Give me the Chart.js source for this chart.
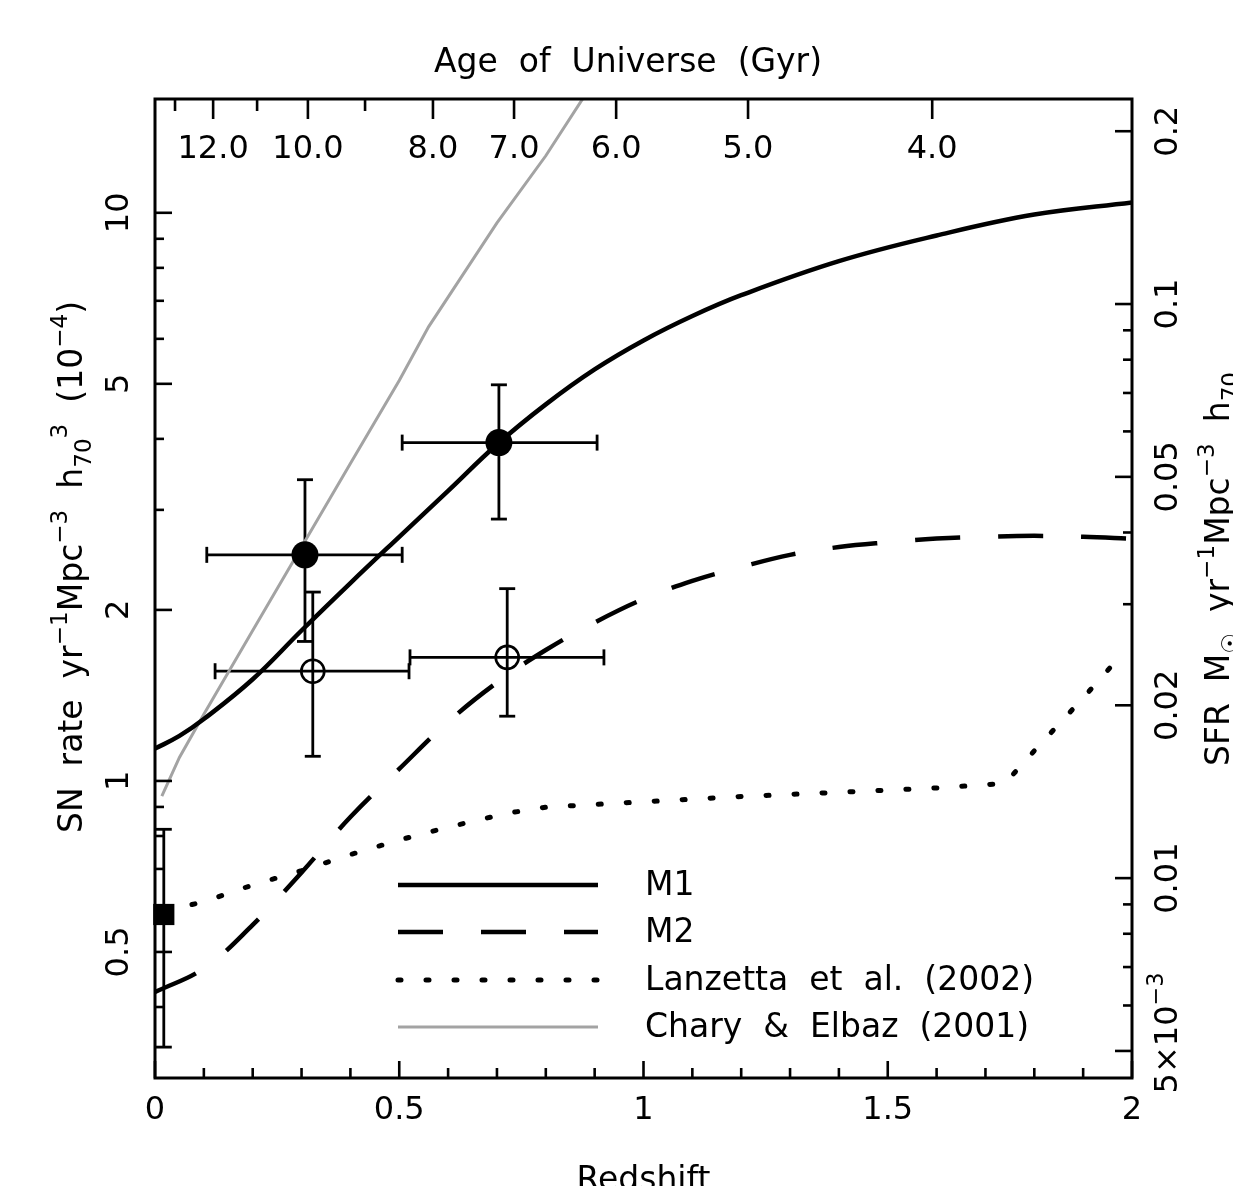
<!DOCTYPE html>
<html><head><meta charset="utf-8">
<script src="https://cdn.jsdelivr.net/npm/chart.js@4.4.1/dist/chart.umd.min.js"></script>
<style>html,body{margin:0;padding:0;background:#fff;overflow:hidden}canvas{display:block}</style>
</head><body>
<canvas id="c" width="1233" height="1186"></canvas>
<script>
// ---------- data ----------
const m1Redshift = [0, 0.05, 0.1, 0.2, 0.3, 0.4, 0.5, 0.6, 0.7, 0.8, 0.9, 1.0, 1.1, 1.2, 1.4, 1.6, 1.8, 2.0];
const m1Rate     = [1.14, 1.20, 1.285, 1.51, 1.84, 2.23, 2.69, 3.24, 3.91, 4.60, 5.30, 5.96, 6.58, 7.16, 8.22, 9.12, 9.93, 10.43];

const m2Redshift = [0, 0.1, 0.2, 0.3, 0.4, 0.5, 0.6, 0.7, 0.8, 0.9, 1.0, 1.1, 1.2, 1.3, 1.4, 1.5, 1.6, 1.7, 1.8, 1.9, 2.0];
const m2Rate     = [0.425, 0.468, 0.558, 0.69, 0.864, 1.05, 1.27, 1.49, 1.70, 1.90, 2.09, 2.25, 2.38, 2.50, 2.58, 2.63, 2.67, 2.69, 2.70, 2.69, 2.67];

const lanzettaRedshift = [0.02, 0.1, 0.2, 0.3, 0.4, 0.5, 0.6, 0.72, 0.8, 0.9, 1.0, 1.2, 1.4, 1.6, 1.74, 1.8, 1.9, 1.96];
const lanzettaRate     = [0.59, 0.613, 0.656, 0.695, 0.742, 0.787, 0.829, 0.877, 0.899, 0.909, 0.919, 0.939, 0.955, 0.972, 0.99, 1.13, 1.40, 1.60];

const charyRedshift = [0.014, 0.05, 0.1, 0.2, 0.3, 0.4, 0.5, 0.56, 0.7, 0.8, 0.876];
const charyRate     = [0.94, 1.10, 1.31, 1.84, 2.58, 3.62, 5.07, 6.3, 9.6, 12.6, 15.9];

// filled circles
const filledRedshift = [0.307, 0.704];
const filledRate     = [2.50, 3.94];
const filledZLow     = [0.106, 0.506];
const filledZHigh    = [0.506, 0.905];
const filledRateLow  = [1.76, 2.89];
const filledRateHigh = [3.39, 4.98];
// open circles
const openRedshift = [0.323, 0.721];
const openRate     = [1.56, 1.65];
const openZLow     = [0.123, 0.522];
const openZHigh    = [0.520, 0.919];
const openRateLow  = [1.105, 1.30];
const openRateHigh = [2.15, 2.18];
// local (square) point
const localRedshift = [0.018];
const localRate     = [0.582];
const localRateLow  = [0.340];
const localRateHigh = [0.822];

// axes
const rateMin = 0.3126, rateMax = 15.86;           // SN rate (1e-4) range
const sfrPerRate = 0.01435;                         // right-axis conversion
const redshiftTickValues = [0, 0.5, 1, 1.5, 2];
const redshiftTickLabels = ['0', '0.5', '1', '1.5', '2'];
const rateTickValues = [0.5, 1, 2, 5, 10];
const rateTickLabels = ['0.5', '1', '2', '5', '10'];
const sfrTickValues = [0.005, 0.01, 0.02, 0.05, 0.1, 0.2];
const sfrTickLabels = ['5×10^−3', '0.01', '0.02', '0.05', '0.1', '0.2'];
const ageTickLabels   = ['12.0', '10.0', '8.0', '7.0', '6.0', '5.0', '4.0'];
const ageTickRedshift = [0.119, 0.313, 0.569, 0.735, 0.944, 1.214, 1.591];
const ageMinorRedshift = [0.041, 0.209, 0.430];   // 13, 11, 9 Gyr

const legendLabels = ['M1', 'M2', 'Lanzetta  et  al.  (2002)', 'Chary  &  Elbaz  (2001)'];

// ---------- helpers ----------
const FONT = '"DejaVu Sans", sans-serif';
const pts = (xs, ys) => xs.map((x, i) => ({x: x, y: ys[i]}));

function segWidth(ctx, s, size) {
  ctx.font = (s.k === 'n' ? size : size * 0.7) + 'px ' + FONT;
  return ctx.measureText(s.t).width;
}
function drawRich(ctx, segs, x, y, size, rot, align) {
  ctx.save();
  ctx.translate(x, y);
  if (rot) ctx.rotate(rot);
  let w = 0;
  segs.forEach(s => { w += segWidth(ctx, s, size); });
  let cx = align === 'center' ? -w / 2 : 0;
  ctx.textAlign = 'left';
  ctx.textBaseline = 'alphabetic';
  ctx.fillStyle = '#000';
  segs.forEach(s => {
    const sw = segWidth(ctx, s, size);
    const dy = s.k === 'sup' ? -0.45 * size : (s.k === 'sub' ? 0.28 * size : 0);
    ctx.fillText(s.t, cx, dy);
    cx += sw;
  });
  ctx.restore();
}
function parseLabel(txt) {
  const p = txt.split('^');
  const segs = [{t: p[0], k: 'n'}];
  if (p[1]) segs.push({t: p[1], k: 'sup'});
  return segs;
}
function line(ctx, x1, y1, x2, y2) {
  ctx.beginPath(); ctx.moveTo(x1, y1); ctx.lineTo(x2, y2); ctx.stroke();
}

// ---------- plugins ----------
const errorBars = {
  id: 'errorBars',
  beforeDatasetsDraw(chart) {
    const ctx = chart.ctx, xs = chart.scales.x, ys = chart.scales.y;
    ctx.save();
    ctx.strokeStyle = '#000';
    ctx.lineWidth = 2.8;
    const cap = 8;
    function bar(z, r, zl, zh, rl, rh) {
      const px = xs.getPixelForValue(z), py = ys.getPixelForValue(r);
      if (zl !== null) {
        const a = xs.getPixelForValue(zl), b = xs.getPixelForValue(zh);
        line(ctx, a, py, b, py);
        line(ctx, a, py - cap, a, py + cap);
        line(ctx, b, py - cap, b, py + cap);
      }
      const c = ys.getPixelForValue(rl), d = ys.getPixelForValue(rh);
      line(ctx, px, c, px, d);
      line(ctx, px - cap, c, px + cap, c);
      line(ctx, px - cap, d, px + cap, d);
    }
    filledRedshift.forEach((z, i) => bar(z, filledRate[i], filledZLow[i], filledZHigh[i], filledRateLow[i], filledRateHigh[i]));
    openRedshift.forEach((z, i) => bar(z, openRate[i], openZLow[i], openZHigh[i], openRateLow[i], openRateHigh[i]));
    localRedshift.forEach((z, i) => bar(z, localRate[i], null, null, localRateLow[i], localRateHigh[i]));
    ctx.restore();
  }
};

const axesDecor = {
  id: 'axesDecor',
  afterDraw(chart) {
    const ctx = chart.ctx;
    const a = chart.chartArea;
    const xs = chart.scales.x, x2 = chart.scales.x2, ys = chart.scales.y, y2 = chart.scales.y2;
    ctx.save();
    ctx.strokeStyle = '#000';
    ctx.lineCap = 'butt';
    // ticks
    ctx.lineWidth = 2.6;
    for (let i = 0; i <= 20; i++) {
      const v = i / 10;
      const px = xs.getPixelForValue(v);
      const len = redshiftTickValues.some(t => Math.abs(t - v) < 1e-9) ? 17 : 10;
      line(ctx, px, a.bottom, px, a.bottom - len);
    }
    x2.ticks.forEach(t => { const px = x2.getPixelForValue(t.value); line(ctx, px, a.top, px, a.top + 20); });
    ageMinorRedshift.forEach(v => { const px = x2.getPixelForValue(v); line(ctx, px, a.top, px, a.top + 12); });
    [0.1, 1, 10].forEach(d => {
      for (let m = 1; m <= 9; m++) {
        const v = m * d;
        if (v < rateMin || v > rateMax) continue;
        const py = ys.getPixelForValue(v);
        const len = rateTickValues.some(t => Math.abs(t - v) < 1e-9) ? 17 : 9;
        line(ctx, a.left, py, a.left + len, py);
      }
    });
    [0.001, 0.01, 0.1].forEach(d => {
      for (let m = 1; m <= 9; m++) {
        const v = m * d;
        if (v < y2.min || v > y2.max) continue;
        const py = y2.getPixelForValue(v);
        const len = sfrTickValues.some(t => Math.abs(t - v) < 1e-12) ? 17 : 9;
        line(ctx, a.right, py, a.right - len, py);
      }
    });
    // frame
    ctx.lineWidth = 3;
    ctx.strokeRect(a.left, a.top, a.right - a.left, a.bottom - a.top);

    // tick labels
    ctx.fillStyle = '#000';
    const TS = 32;
    ctx.font = TS + 'px ' + FONT;
    ctx.textAlign = 'center';
    ctx.textBaseline = 'alphabetic';
    xs.ticks.forEach((t, i) => ctx.fillText(redshiftTickLabels[i], xs.getPixelForValue(t.value), a.bottom + 41));
    x2.ticks.forEach((t, i) => ctx.fillText(ageTickLabels[i], x2.getPixelForValue(t.value), a.top + 59));
    ys.ticks.forEach((t, i) => drawRich(ctx, parseLabel(rateTickLabels[i]), a.left - 27, ys.getPixelForValue(t.value), TS, -Math.PI / 2, 'center'));
    y2.ticks.forEach((t, i) => {
      let py = y2.getPixelForValue(t.value);
      if (sfrTickLabels[i].indexOf('^') >= 0) py -= 18;
      drawRich(ctx, parseLabel(sfrTickLabels[i]), a.right + 45, py, TS, -Math.PI / 2, 'center');
    });

    // axis titles
    const S = 33;
    ctx.font = S + 'px ' + FONT;
    ctx.textAlign = 'center';
    ctx.fillText('Age  of  Universe  (Gyr)', 628, 72);
    ctx.fillText('Redshift', (a.left + a.right) / 2, a.bottom + 112);
    drawRich(ctx, [
      {t: 'SN  rate  yr', k: 'n'}, {t: '−1', k: 'sup'}, {t: 'Mpc', k: 'n'}, {t: '−3', k: 'sup'},
      {t: '  h', k: 'n'}, {t: '70', k: 'sub'}, {t: '3', k: 'sup'}, {t: '  (10', k: 'n'}, {t: '−4', k: 'sup'}, {t: ')', k: 'n'}
    ], 82, 567, S, -Math.PI / 2, 'center');
    drawRich(ctx, [
      {t: 'SFR  M', k: 'n'}, {t: '☉', k: 'sub'}, {t: '  yr', k: 'n'}, {t: '−1', k: 'sup'}, {t: 'Mpc', k: 'n'}, {t: '−3', k: 'sup'},
      {t: '  h', k: 'n'}, {t: '70', k: 'sub'}
    ], 1229, 766, S, -Math.PI / 2, 'left');

    // legend
    const rows = [885, 932, 980, 1027];
    const ds = [chart.data.datasets[3], chart.data.datasets[4], chart.data.datasets[5], chart.data.datasets[6]];
    ds.forEach((d, i) => {
      ctx.save();
      ctx.strokeStyle = d.borderColor;
      ctx.lineWidth = d.borderWidth;
      ctx.lineCap = d.borderCapStyle || 'butt';
      ctx.setLineDash(d.borderDash || []);
      line(ctx, 398, rows[i], 598, rows[i]);
      ctx.restore();
      ctx.font = S + 'px ' + FONT;
      ctx.textAlign = 'left';
      ctx.textBaseline = 'middle';
      ctx.fillStyle = '#000';
      ctx.fillText(legendLabels[i], 645, rows[i] + 1);
    });
    ctx.restore();
  }
};

// ---------- chart ----------
const hidden = {grid: {display: false}, border: {display: false}, ticks: {display: false}};
new Chart(document.getElementById('c'), {
  type: 'line',
  data: {
    datasets: [
      {type: 'scatter', label: 'filled', data: pts(filledRedshift, filledRate), pointStyle: 'circle', pointRadius: 13.5,
       backgroundColor: '#000', borderColor: '#000', borderWidth: 0, clip: false},
      {type: 'scatter', label: 'open', data: pts(openRedshift, openRate), pointStyle: 'circle', pointRadius: 11.5,
       backgroundColor: 'rgba(0,0,0,0)', borderColor: '#000', borderWidth: 2.6, clip: false},
      {type: 'scatter', label: 'local', data: pts(localRedshift, localRate), pointStyle: 'rect', pointRadius: 15,
       backgroundColor: '#000', borderColor: '#000', borderWidth: 0, clip: false},
      {label: 'M1', data: pts(m1Redshift, m1Rate), borderColor: '#000', borderWidth: 4.5, pointRadius: 0,
       tension: 0.4, fill: false},
      {label: 'M2', data: pts(m2Redshift, m2Rate), borderColor: '#000', borderWidth: 4.5, pointRadius: 0,
       borderDash: [45, 38], tension: 0.4, fill: false},
      {label: 'Lanzetta et al. (2002)', data: pts(lanzettaRedshift, lanzettaRate), borderColor: '#000', borderWidth: 5,
       pointRadius: 0, borderDash: [3, 25], borderCapStyle: 'round', tension: 0, fill: false},
      {label: 'Chary & Elbaz (2001)', data: pts(charyRedshift, charyRate), borderColor: '#a3a3a3', borderWidth: 3,
       pointRadius: 0, tension: 0, fill: false}
    ]
  },
  options: {
    responsive: false,
    animation: false,
    devicePixelRatio: 1,
    layout: {padding: 0},
    plugins: {legend: {display: false}, tooltip: {enabled: false}},
    scales: {
      x: Object.assign({type: 'linear', position: 'bottom', min: 0, max: 2,
        afterBuildTicks: s => { s.ticks = redshiftTickValues.map(v => ({value: v})); },
        afterFit: s => { s.height = 108; }}, hidden),
      x2: Object.assign({type: 'linear', position: 'top', min: 0, max: 2,
        afterBuildTicks: s => { s.ticks = ageTickRedshift.map(v => ({value: v})); },
        afterFit: s => { s.height = 99; }}, hidden),
      y: Object.assign({type: 'logarithmic', position: 'left', min: rateMin, max: rateMax,
        afterBuildTicks: s => { s.ticks = rateTickValues.map(v => ({value: v})); },
        afterFit: s => { s.width = 155; }}, hidden),
      y2: Object.assign({type: 'logarithmic', position: 'right', min: rateMin * sfrPerRate, max: rateMax * sfrPerRate,
        afterBuildTicks: s => { s.ticks = sfrTickValues.map(v => ({value: v})); },
        afterFit: s => { s.width = 101; }}, hidden)
    }
  },
  plugins: [errorBars, axesDecor]
});
</script>
</body></html>
